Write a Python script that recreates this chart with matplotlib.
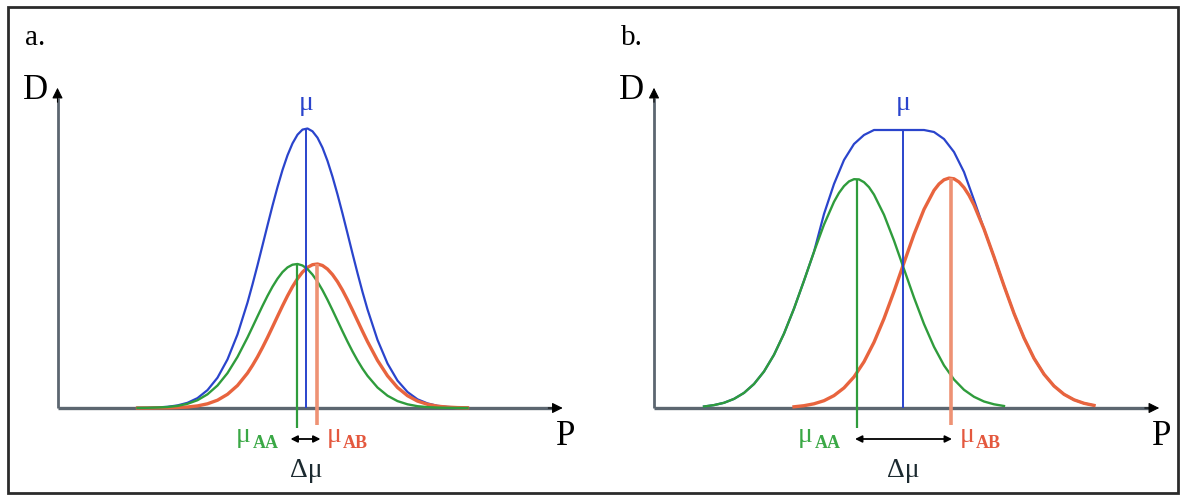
import matplotlib
matplotlib.use("Agg")
import matplotlib.pyplot as plt
from matplotlib.patches import Rectangle

plt.rcParams["font.family"] = ["Liberation Serif", "DejaVu Serif"]

# panel a: curve samples (P position, D height), denser near the peaks
x_a = [8, 9, 10, 11, 12, 13, 14, 15, 16, 17, 18,
       19, 19.5, 20, 20.5, 21, 21.5, 22, 22.5, 23, 23.5, 24, 24.5, 25, 25.5,
       26, 26.5, 27, 27.5, 28, 28.5, 29, 29.5, 30, 30.5, 31,
       32, 33, 34, 35, 36, 37, 38, 39, 40, 41]
green_a = [0.01, 0.02, 0.05, 0.10, 0.21, 0.42, 0.78, 1.37, 2.25, 3.49, 5.11,
           7.05, 8.10, 9.16, 10.21, 11.21, 12.13, 12.93, 13.59, 14.06, 14.33, 14.40,
           14.25, 13.89, 13.34, 12.63, 11.78, 10.82, 9.79, 8.73, 7.67, 6.64, 5.66,
           4.76, 3.94, 3.22,
           2.05, 1.23, 0.69, 0.37, 0.18, 0.09, 0.04, 0.02, 0.01, 0.0]
red_a = [0.0, 0.0, 0.01, 0.02, 0.05, 0.10, 0.21, 0.42, 0.78, 1.37, 2.25,
         3.49, 4.26, 5.11, 6.05, 7.05, 8.10, 9.16, 10.21, 11.21, 12.13, 12.93,
         13.59, 14.06, 14.33, 14.40, 14.25, 13.89, 13.34, 12.63, 11.78, 10.82, 9.79,
         8.73, 7.67, 6.64,
         4.76, 3.22, 2.05, 1.23, 0.69, 0.37, 0.18, 0.09, 0.04, 0.02]
blue_a = [0.01, 0.02, 0.06, 0.12, 0.26, 0.52, 0.99, 1.79, 3.03, 4.86, 7.36,
          10.54, 12.36, 14.27, 16.26, 18.26, 20.23, 22.09, 23.80, 25.27, 26.46, 27.33,
          27.84, 27.95, 27.67, 27.03, 26.03, 24.71, 23.13, 21.36, 19.45, 17.46, 15.45,
          13.49, 11.61, 9.86,
          6.81, 4.45, 2.74, 1.60, 0.87, 0.46, 0.22, 0.11, 0.05, 0.02]
# means: mu_AA, mu, mu_AB
mu_a = [23.9, 24.85, 25.95]

# panel b
x_green_b = [5, 6, 7, 8, 9, 10, 11, 12, 13, 14, 15, 16, 17, 18, 18.5, 19, 19.5,
             20, 20.5, 21, 21.5, 22, 23, 24, 25, 26, 27, 28, 29, 30, 31, 32, 33,
             34, 35]
green_b = [0.15, 0.29, 0.52, 0.91, 1.51, 2.40, 3.65, 5.32, 7.44, 9.94, 12.73, 15.62,
           18.34, 20.62, 21.51, 22.19, 22.66, 22.88, 22.86, 22.58, 22.08, 21.34,
           19.32, 16.74, 13.89, 11.04, 8.40, 6.12, 4.26, 2.85, 1.82, 1.12, 0.65,
           0.37, 0.20]
x_red_b = [14, 15, 16, 17, 18, 19, 20, 21, 22, 23, 24, 25, 26, 27, 28, 28.5, 29,
           29.5, 30, 30.5, 31, 31.5, 32, 33, 34, 35, 36, 37, 38, 39, 40, 41, 42,
           43, 44]
red_b = [0.12, 0.23, 0.42, 0.73, 1.24, 2.01, 3.11, 4.62, 6.57, 8.94, 11.65, 14.53,
         17.36, 19.86, 21.76, 22.40, 22.82, 22.99, 22.92, 22.60, 22.04, 21.27,
         20.30, 17.90, 15.11, 12.22, 9.46, 7.01, 4.97, 3.38, 2.20, 1.37, 0.82,
         0.47, 0.26]
x_blue_b = list(range(5, 45))
blue_b = [0.15, 0.29, 0.52, 0.91, 1.51, 2.40, 3.65, 5.32, 7.44, 9.94, 12.73, 15.62,
          19.4, 22.4, 24.8, 26.4, 27.3, 27.8, 27.8, 27.8, 27.8, 27.8, 27.8, 27.6,
          26.9, 25.6, 23.6, 20.8, 17.90, 15.11, 12.22, 9.46, 7.01, 4.97, 3.38,
          2.20, 1.37, 0.82, 0.47, 0.26]
mu_b = [20.27, 24.9, 29.67]

BLUE = "#2a44cc"
GREEN = "#2f9c3c"
RED = "#e8643e"
RED_LINE = "#ee9274"
AXIS = "#5c6670"

W, H = 1182, 500
fig = plt.figure(figsize=(W / 100, H / 100), dpi=100)
fig.add_artist(Rectangle((8 / W, 7 / H), 1170 / W, 486 / H, transform=fig.transFigure,
                         fill=False, edgecolor="#2b2b2b", linewidth=2.0))


def panel(left_px, letter, xg, g, xr, r, xb, b, mu, lab):
    ax = fig.add_axes([left_px / W, (H - 408) / H, 508 / W, 323 / H])
    ax.set_xlim(0, 50.8)
    ax.set_ylim(0, 32.3)
    ax.axis("off")

    # axes with arrow heads
    ax.plot([0, 49.5], [0, 0], color=AXIS, lw=2.4, solid_capstyle="butt", clip_on=False)
    ax.plot([0, 0], [0, 31.0], color=AXIS, lw=2.0, solid_capstyle="butt", clip_on=False)
    ax.annotate("", xy=(50.8, 0), xytext=(48.8, 0),
                arrowprops=dict(arrowstyle="-|>", color="black", lw=0.8, mutation_scale=16),
                annotation_clip=False)
    ax.annotate("", xy=(0, 32.3), xytext=(0, 30.3),
                arrowprops=dict(arrowstyle="-|>", color="black", lw=0.8, mutation_scale=16),
                annotation_clip=False)

    ax.plot(xb, b, color=BLUE, lw=1.6, clip_on=False)
    ax.plot(xr, r, color=RED, lw=2.4, clip_on=False)
    ax.plot(xg, g, color=GREEN, lw=1.7, clip_on=False)

    ax.vlines(mu[0], -2.0, max(g), color=GREEN, lw=1.6, clip_on=False)
    ax.vlines(mu[1], 0, max(b), color=BLUE, lw=1.4, clip_on=False)
    ax.vlines(mu[2], -1.7, max(r), color=RED_LINE, lw=2.6, clip_on=False)

    # axis labels
    ax.text(-2.2, 30.9, "D", fontsize=25, ha="center", va="baseline", clip_on=False)
    ax.text(50.8, -3.7, "P", fontsize=25, ha="center", va="baseline", clip_on=False)
    ax.text(-2.2, 36.3, letter, fontsize=21, ha="center", va="baseline", clip_on=False)

    # mean labels
    ax.text(mu[1], 29.8, "\u03bc", fontsize=20, color=BLUE, ha="center", va="baseline")
    ax.text(lab[0], -3.4, "\u03bc", fontsize=20, color="#3aa845", ha="right", va="baseline")
    ax.text(lab[0] + 0.2, -4.0, "AA", fontsize=13, fontweight="bold", color="#3aa845",
            ha="left", va="baseline")
    ax.text(lab[1], -3.4, "\u03bc", fontsize=20, color="#e4583e", ha="left", va="baseline")
    ax.text(lab[1] + 1.6, -4.0, "AB", fontsize=13, fontweight="bold", color="#e4583e",
            ha="left", va="baseline")
    ax.annotate("", xy=(lab[3], -3.1), xytext=(lab[2], -3.1),
                arrowprops=dict(arrowstyle="<|-|>", color="black", lw=1.3, mutation_scale=10,
                                shrinkA=0, shrinkB=0),
                annotation_clip=False)
    ax.text(mu[1], -6.9, "\u0394\u03bc", fontsize=20, color="#1c2a30", ha="center",
            va="baseline")
    return ax


panel(57.5, "a.", x_a, green_a, x_a, red_a, x_a, blue_a, mu_a, [19.3, 26.9, 23.3, 26.3])
panel(654, "b.", x_green_b, green_b, x_red_b, red_b, x_blue_b, blue_b, mu_b,
      [15.9, 30.6, 20.1, 29.8])

fig.savefig("out.png", dpi=100, facecolor="white")
